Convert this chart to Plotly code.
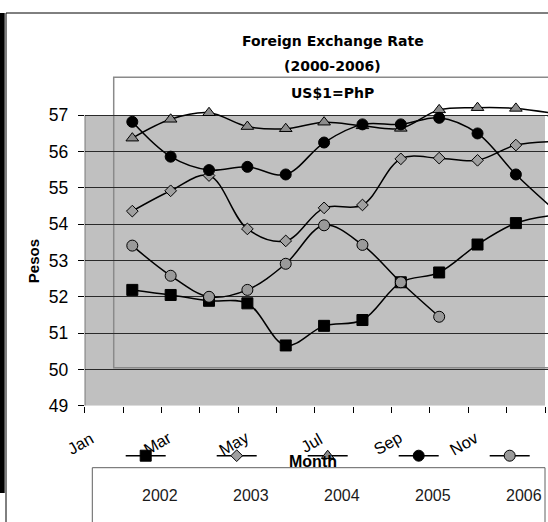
import plotly.graph_objects as go

# ---------------- data ----------------
months = ["Jan", "Feb", "Mar", "Apr", "May", "Jun", "Jul", "Aug", "Sep", "Oct", "Nov", "Dec"]
tick_labels = ["Jan", "Mar", "May", "Jul", "Sep", "Nov"]
years = ["2002", "2003", "2004", "2005", "2006"]

rate_2002 = [52.19, 52.05, 51.89, 51.82, 50.66, 51.20, 51.36, 52.40, 52.67, 53.44, 54.03, 54.25]
rate_2003 = [54.36, 54.92, 55.34, 53.87, 53.54, 54.45, 54.53, 55.80, 55.82, 55.76, 56.18, 56.28]
rate_2004 = [56.37, 56.89, 57.07, 56.69, 56.63, 56.81, 56.71, 56.64, 57.15, 57.21, 57.19, 57.05]
rate_2005 = [56.82, 55.86, 55.49, 55.58, 55.37, 56.25, 56.75, 56.75, 56.93, 56.50, 55.37, 54.40]
rate_2006 = [53.41, 52.58, 52.00, 52.19, 52.91, 53.97, 53.43, 52.40, 51.45, None, None, None]

y_ticks = [49, 50, 51, 52, 53, 54, 55, 56, 57]

series = [rate_2002, rate_2003, rate_2004, rate_2005, rate_2006]

# ---------------- styling / layout ----------------
styles = [
    dict(symbol="square", size=11, color="#000000"),
    dict(symbol="diamond", size=9, color="#a0a0a0"),
    dict(symbol="triangle-up", size=11, color="#8c8c8c"),
    dict(symbol="circle", size=11, color="#000000"),
    dict(symbol="circle", size=11, color="#9a9a9a"),
]

W, H = 548, 522
PL = 84.7          # left of plot area (px)
PR_TICK = 545.0    # last category tick (px)
PB = 405.7         # bottom (value 49)
PTOP = 74.0        # top of drawing region
PX_CAT = (PR_TICK - PL) / 12
PX_UNIT = (405.7 - 115.3) / 8
FIRST_PT = 132.3   # pixel of first data point

x_span = (W - PL) / PX_CAT
y_top = 49 + (PB - PTOP) / PX_UNIT
x2_left = -(FIRST_PT - PL) / PX_CAT

def px(x):
    return x / W

def py(y):
    return (H - y) / H

fig = go.Figure()

for yr, vals, st in zip(years, series, styles):
    fig.add_trace(go.Scatter(
        x=months, y=vals, name=yr, xaxis="x2", yaxis="y",
        mode="lines+markers",
        line=dict(color="black", width=1.5, shape="spline", smoothing=1.0),
        marker=dict(symbol=st["symbol"], size=st["size"], color=st["color"],
                    line=dict(color="black", width=1)),
        connectgaps=False, showlegend=False, cliponaxis=True,
    ))

# legend symbols (drawn on a pixel-space overlay axis)
LEG_X0, LEG_DX, LEG_Y = 145.7, 91.0, 455.7
for i, (yr, st) in enumerate(zip(years, styles)):
    cx = LEG_X0 + LEG_DX * i
    fig.add_trace(go.Scatter(
        x=[cx - 20, cx + 20], y=[LEG_Y, LEG_Y], xaxis="x3", yaxis="y3",
        mode="lines", line=dict(color="black", width=1.5),
        showlegend=False, hoverinfo="skip", cliponaxis=False,
    ))
    fig.add_trace(go.Scatter(
        x=[cx], y=[LEG_Y], xaxis="x3", yaxis="y3", mode="markers",
        marker=dict(symbol=st["symbol"], size=st["size"], color=st["color"],
                    line=dict(color="black", width=1)),
        showlegend=False, hoverinfo="skip", cliponaxis=False,
    ))

shapes = [
    # gray plot area
    dict(type="rect", xref="x", yref="y", x0=0, x1=12, y0=49, y1=57,
         fillcolor="#c0c0c0", line=dict(width=0), layer="below"),
    # inner (shifted) plot box
    dict(type="rect", xref="x", yref="y", x0=(113.7 - PL) / PX_CAT, x1=13,
         y0=57 - (367.7 - 115.3) / PX_UNIT, y1=57 + (115.3 - 77.3) / PX_UNIT,
         line=dict(color="#8a8a8a", width=1.5), layer="below"),
    # y axis line
    dict(type="line", xref="x", yref="y", x0=0, x1=0, y0=49, y1=57,
         line=dict(color="black", width=1), layer="above"),
    # legend box
    dict(type="rect", xref="paper", yref="paper", x0=px(92.3), x1=px(545),
         y0=py(540), y1=py(467.7), line=dict(color="#606060", width=1)),
    # chart frame
    dict(type="rect", xref="paper", yref="paper", x0=0, x1=px(4.7),
         y0=py(493), y1=py(13), fillcolor="black", line=dict(width=0)),
    dict(type="line", xref="paper", yref="paper", x0=px(6), x1=px(6),
         y0=py(530), y1=py(13), line=dict(color="black", width=1)),
    dict(type="line", xref="paper", yref="paper", x0=px(6), x1=px(560),
         y0=py(13), y1=py(13), line=dict(color="black", width=1)),
]

title_font = dict(family="DejaVu Sans", size=14, color="black")
annotations = [
    dict(text="<b>Foreign Exchange Rate</b>", x=px(332.5), y=py(41), xref="paper", yref="paper",
         showarrow=False, font=title_font, xanchor="center", yanchor="middle"),
    dict(text="<b>(2000-2006)</b>", x=px(332.5), y=py(66.5), xref="paper", yref="paper",
         showarrow=False, font=title_font, xanchor="center", yanchor="middle"),
    dict(text="<b>US$1=PhP</b>", x=px(332.5), y=py(93), xref="paper", yref="paper",
         showarrow=False, font=title_font, xanchor="center", yanchor="middle"),
    dict(text="<b>Pesos</b>", x=px(33.5), y=py(261.7), xref="paper", yref="paper",
         showarrow=False, textangle=-90, xanchor="center", yanchor="middle",
         font=dict(family="Liberation Sans", size=15, color="black")),
    dict(text="<b>Month</b>", x=px(313.3), y=py(461.5), xref="paper", yref="paper",
         showarrow=False, xanchor="center", yanchor="middle",
         font=dict(family="Liberation Sans", size=16, color="black")),
]
for k, lab in enumerate(tick_labels):
    xpix = PL + (2 * k - 0.1) * PX_CAT
    annotations.append(dict(
        text=lab, x=px(xpix), y=py(443), xref="paper", yref="paper",
        showarrow=False, textangle=-30, xanchor="center", yanchor="middle",
        font=dict(family="Liberation Sans", size=16.5, color="black")))
for i, yr in enumerate(years):
    annotations.append(dict(
        text=yr, x=px(160.3 + LEG_DX * i), y=py(495.7), xref="paper", yref="paper",
        showarrow=False, xanchor="center", yanchor="middle",
        font=dict(family="Liberation Sans", size=16, color="#1a1a1a")))

fig.update_layout(
    template="none",
    width=W, height=H, autosize=False,
    margin=dict(l=0, r=0, t=0, b=0, pad=0, autoexpand=False),
    paper_bgcolor="white", plot_bgcolor="rgba(0,0,0,0)",
    showlegend=False,
    font=dict(family="Liberation Sans", color="black"),
    xaxis=dict(domain=[px(PL), 1], range=[0, x_span], tickmode="array",
               tickvals=list(range(13)), showticklabels=False, ticks="outside",
               ticklen=6, tickcolor="black", tickwidth=1, showgrid=False,
               zeroline=False, showline=False, automargin=False),
    xaxis2=dict(overlaying="x", anchor="y", domain=[px(PL), 1], type="category",
                categoryorder="array", categoryarray=months,
                range=[x2_left, x2_left + x_span], visible=False, automargin=False),
    yaxis=dict(domain=[py(PB), py(PTOP)], range=[49, y_top], tickmode="array",
               tickvals=y_ticks, ticktext=[str(v) for v in y_ticks],
               ticks="outside", ticklen=6, tickcolor="black", tickwidth=1,
               ticklabelstandoff=6,
               tickfont=dict(family="Liberation Sans", size=17.5, color="black"),
               showgrid=True, gridcolor="#2a2a2a", gridwidth=1,
               zeroline=False, showline=False, automargin=False),
    xaxis3=dict(domain=[0, 1], range=[0, W], anchor="y3", visible=False, automargin=False),
    yaxis3=dict(domain=[0, 1], range=[H, 0], anchor="x3", visible=False, automargin=False),
    shapes=shapes,
    annotations=annotations,
)

fig.write_html("out.html", config={"displayModeBar": False},
               post_script="document.body.style.margin='0px';")
